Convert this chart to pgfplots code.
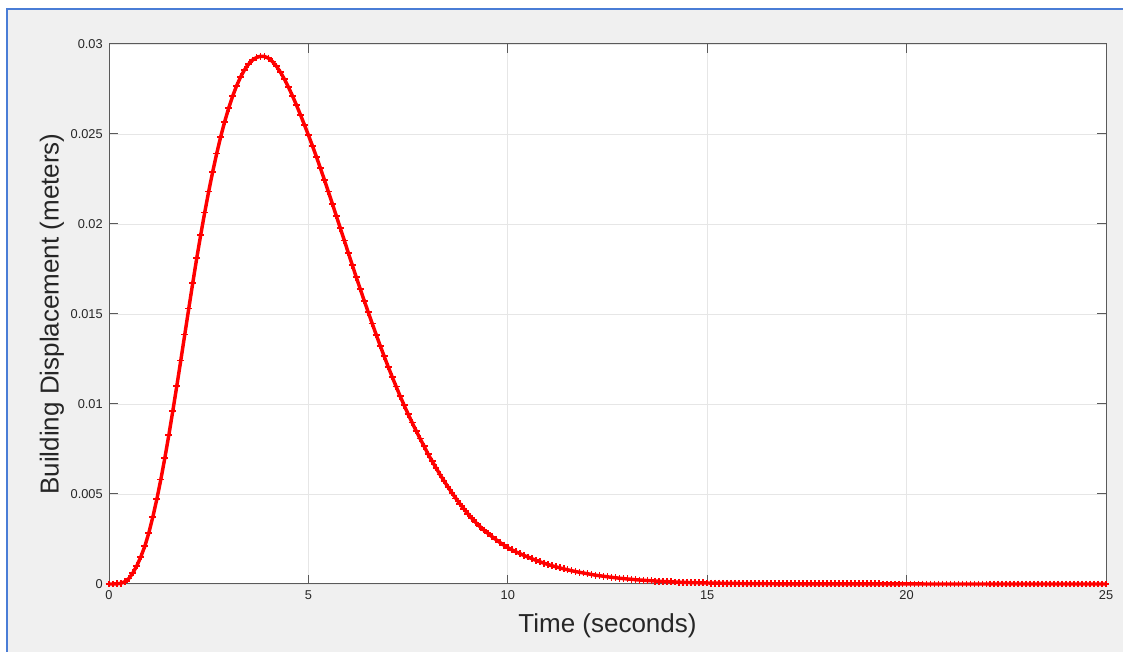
\documentclass[border=0pt]{standalone}
\usepackage{pgfplots}
\pgfplotsset{compat=1.18}
\usepackage{fontspec}
\setmainfont{Liberation Sans}
\definecolor{figbg}{HTML}{F0F0F0}
\definecolor{frameblue}{HTML}{4A7DD6}
\definecolor{axgray}{HTML}{5A5A5A}
\definecolor{gridgray}{HTML}{E6E6E6}
\definecolor{txt}{HTML}{262626}
\begin{document}
\begin{tikzpicture}
\useasboundingbox (0,0) rectangle (842.25pt,489pt);
\fill[white] (0,0) rectangle (842.25pt,489pt);
\fill[figbg] (5.25pt,0) rectangle (842.25pt,482.25pt);
\draw[frameblue, line width=1.5pt] (5.25pt,0) -- (5.25pt,482.25pt) -- (843pt,482.25pt);
\begin{axis}[
  at={(81.75pt,51pt)}, anchor=south west,
  scale only axis, width=747.75pt, height=405pt,
  xmin=0, xmax=25, ymin=0, ymax=0.03,
  scaled y ticks=false, scaled x ticks=false,
  axis background/.style={fill=white},
  axis line style={axgray, line width=0.75pt},
  xtick={0,5,10,15,20,25},
  xticklabels={0,5,10,15,20,25},
  ytick={0,0.005,0.01,0.015,0.02,0.025,0.03},
  yticklabels={0,0.005,0.01,0.015,0.02,0.025,0.03},
  tick align=inside, major tick length=6.4pt,
  tick style={axgray, line width=0.75pt},
  grid=major, major grid style={gridgray, line width=0.6pt},
  ticklabel style={font=\fontsize{9.6}{11}\selectfont, text=txt},
  yticklabel style={anchor=east, inner sep=0pt, xshift=-4.5pt},
  xticklabel style={anchor=north, inner sep=0pt, yshift=-4.5pt},
  every axis x label/.style={at={(axis description cs:0.5,-0.0778)}, anchor=center, font=\fontsize{19.5}{23}\selectfont, text=txt},
  every axis y label/.style={at={(axis description cs:-0.0572,0.5)}, rotate=90, anchor=center, font=\fontsize{19.5}{23}\selectfont, text=txt},
  xlabel={Time (seconds)}, ylabel={Building Displacement (meters)},
  clip=false,
]
\addplot[red, line width=2.6pt, line join=round, mark=+, mark size=2.6pt, mark options={line width=1.3pt}] coordinates {
(0,0) (0.1,0.000001) (0.2,0.00001) (0.3,0.00004) (0.4,0.00013) (0.5,0.00031) (0.6,0.00062) (0.7,0.00102) (0.8,0.00152) (0.9,0.00211)
(1.0,0.00285) (1.1,0.00373) (1.2,0.00472) (1.3,0.00581) (1.4,0.00700) (1.5,0.00827) (1.6,0.00961) (1.7,0.01100) (1.8,0.01242) (1.9,0.01386)
(2.0,0.01530) (2.1,0.01672) (2.2,0.01810) (2.3,0.01940) (2.4,0.02064) (2.5,0.02181) (2.6,0.02290) (2.7,0.02391) (2.8,0.02484) (2.9,0.02568)
(3.0,0.02643) (3.1,0.02710) (3.2,0.02768) (3.3,0.02817) (3.4,0.02857) (3.5,0.02888) (3.6,0.02911) (3.7,0.02925) (3.8,0.02932) (3.9,0.02931)
(4.0,0.02921) (4.1,0.02902) (4.2,0.02876) (4.3,0.02843) (4.4,0.02804) (4.5,0.02760) (4.6,0.02712) (4.7,0.02661) (4.8,0.02607) (4.9,0.02551)
(5.0,0.02494) (5.1,0.02435) (5.2,0.02374) (5.3,0.02311) (5.4,0.02246) (5.5,0.02180) (5.6,0.02113) (5.7,0.02045) (5.8,0.01977) (5.9,0.01909)
(6.0,0.01840) (6.1,0.01772) (6.2,0.01705) (6.3,0.01639) (6.4,0.01574) (6.5,0.01510) (6.6,0.01447) (6.7,0.01385) (6.8,0.01324) (6.9,0.01265)
(7.0,0.01207) (7.1,0.01151) (7.2,0.01097) (7.3,0.01044) (7.4,0.00993) (7.5,0.00944) (7.6,0.00897) (7.7,0.00852) (7.8,0.00808) (7.9,0.00766)
(8.0,0.00722) (8.1,0.00683) (8.2,0.00645) (8.3,0.00608) (8.4,0.00573) (8.5,0.00539) (8.6,0.00506) (8.7,0.00475) (8.8,0.00445) (8.9,0.00417)
(9.0,0.00390) (9.1,0.00365) (9.2,0.00341) (9.3,0.00319) (9.4,0.00300) (9.5,0.00282) (9.6,0.00264) (9.7,0.00247) (9.8,0.00231) (9.9,0.00216)
(10.0,0.00202) (10.1,0.00190) (10.2,0.00179) (10.3,0.00169) (10.4,0.00159) (10.5,0.00150) (10.6,0.00141) (10.7,0.00132) (10.8,0.00124) (10.9,0.00116)
(11.0,0.00109) (11.1,0.00102) (11.2,0.00096) (11.3,0.00090) (11.4,0.00084) (11.5,0.00079) (11.6,0.00074) (11.7,0.00069) (11.8,0.00065) (11.9,0.00061)
(12.0,0.00057) (12.1,0.00053) (12.2,0.00049) (12.3,0.00046) (12.4,0.00043) (12.5,0.00040) (12.6,0.00037) (12.7,0.00035) (12.8,0.00032) (12.9,0.00030)
(13.0,0.00028) (13.1,0.00026) (13.2,0.00024) (13.3,0.00022) (13.4,0.00021) (13.5,0.00019) (13.6,0.00018) (13.7,0.00016) (13.8,0.00015) (13.9,0.00014)
(14.0,0.00013) (14.1,0.00012) (14.2,0.00011) (14.3,0.00010) (14.4,0.000093) (14.5,0.000086) (14.6,0.000079) (14.7,0.000073) (14.8,0.000067) (14.9,0.000062)
(15.0,0.000057) (15.1,0.000052) (15.2,0.000048) (15.3,0.000044) (15.4,0.000040) (15.5,0.000037) (15.6,0.000034) (15.7,0.000031) (15.8,0.000028) (15.9,0.000026)
(16.0,0.000024) (16.1,0.000022) (16.2,0.000020) (16.3,0.000018) (16.4,0.000016) (16.5,0.000015) (16.6,0.000014) (16.7,0.000013) (16.8,0.000012) (16.9,0.000011)
(17.0,0.000010) (17.1,0.000009) (17.2,0.000009) (17.3,0.000008) (17.4,0.000008) (17.5,0.000007) (17.6,0.000007) (17.7,0.000006) (17.8,0.000006) (17.9,0.000005)
(18.0,0.000005) (18.1,0.000004) (18.2,0.000004) (18.3,0.000004) (18.4,0.000003) (18.5,0.000003) (18.6,0.000003) (18.7,0.000003) (18.8,0.000002) (18.9,0.000002)
(19.0,0.000002) (19.1,0.000002) (19.2,0.000002) (19.3,0.000002) (19.4,0.000001) (19.5,0.000001) (19.6,0.000001) (19.7,0.000001) (19.8,0.000001) (19.9,0.000001)
(20.0,0.000001) (20.1,0.000001) (20.2,0.000001) (20.3,0.000001) (20.4,0.000001) (20.5,0) (20.6,0) (20.7,0) (20.8,0) (20.9,0)
(21.0,0) (21.1,0) (21.2,0) (21.3,0) (21.4,0) (21.5,0) (21.6,0) (21.7,0) (21.8,0) (21.9,0)
(22.0,0) (22.1,0) (22.2,0) (22.3,0) (22.4,0) (22.5,0) (22.6,0) (22.7,0) (22.8,0) (22.9,0)
(23.0,0) (23.1,0) (23.2,0) (23.3,0) (23.4,0) (23.5,0) (23.6,0) (23.7,0) (23.8,0) (23.9,0)
(24.0,0) (24.1,0) (24.2,0) (24.3,0) (24.4,0) (24.5,0) (24.6,0) (24.7,0) (24.8,0) (24.9,0)
(25.0,0)
};
\end{axis}
\end{tikzpicture}
\end{document}
